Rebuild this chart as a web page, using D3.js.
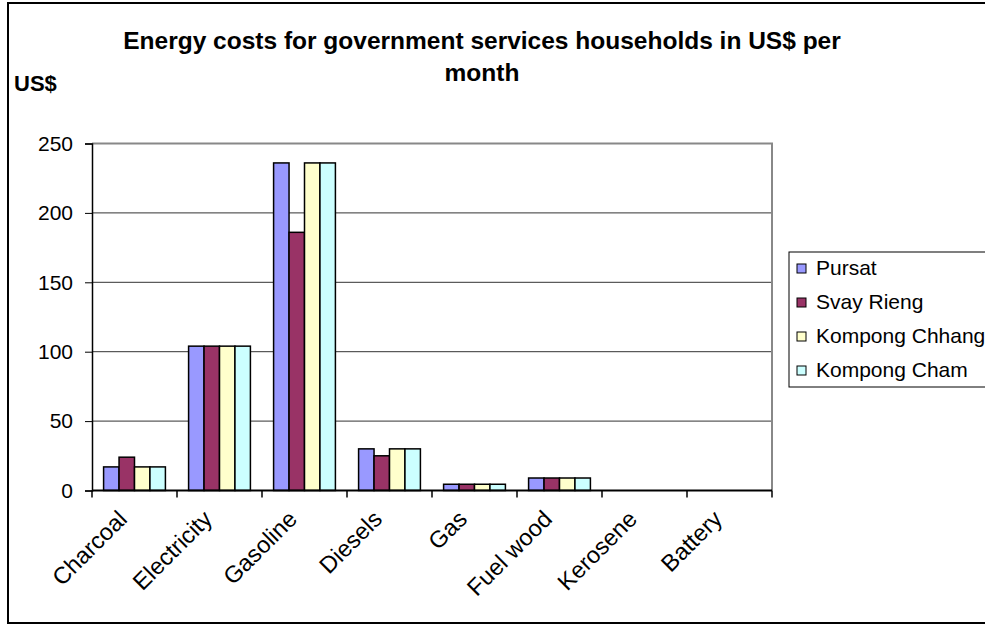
<!DOCTYPE html>
<html>
<head>
<meta charset="utf-8">
<script src="https://cdn.jsdelivr.net/npm/d3@7"></script>
<style>
  body { margin: 0; background: white; }
  text { font-family: "Liberation Sans", Arial, sans-serif; }
</style>
</head>
<body>
<svg width="985" height="625"></svg>
<script>
var categories = ["Charcoal", "Electricity", "Gasoline", "Diesels", "Gas", "Fuel wood", "Kerosene", "Battery"];
var seriesNames = ["Pursat", "Svay Rieng", "Kompong Chhang", "Kompong Cham"];
var pursat = [17, 104, 236, 30, 4.5, 9, 0, 0];
var svayRieng = [24, 104, 186, 25, 4.5, 9, 0, 0];
var kompongChhang = [17, 104, 236, 30, 4.5, 9, 0, 0];
var kompongCham = [17, 104, 236, 30, 4.5, 9, 0, 0];
var yTicks = [0, 50, 100, 150, 200, 250];
var colors = ["#9999FF", "#993366", "#FFFFCC", "#CCFFFF"];

var seriesValues = [pursat, svayRieng, kompongChhang, kompongCham];

var svg = d3.select("svg");

// Outer frame
svg.append("rect")
    .attr("x", 8).attr("y", 3)
    .attr("width", 985).attr("height", 620)
    .attr("fill", "white")
    .attr("stroke", "black")
    .attr("stroke-width", 2);

var plot = { left: 92, right: 772, top: 143.5, bottom: 490.5 };

var xScale = d3.scaleBand().domain(categories).range([plot.left, plot.right]).paddingInner(1.5 / 5.5).paddingOuter(0.75 / 5.5);
var groupScale = d3.scaleBand().domain(seriesNames).range([0, xScale.bandwidth()]);
var tickScale = d3.scaleBand().domain(categories).range([plot.left, plot.right]);
var yScale = d3.scaleLinear().domain([0, 250]).range([plot.bottom, plot.top]);

// Gridlines
svg.append("g")
    .selectAll("line")
    .data(yTicks.slice(1))
    .join("line")
    .attr("x1", plot.left).attr("x2", plot.right)
    .attr("y1", d => yScale(d)).attr("y2", d => yScale(d))
    .style("stroke", "#333")
    .style("stroke-width", 1);

// Plot area right/top border
svg.append("path")
    .attr("d", "M" + plot.left + "," + plot.top + "H" + plot.right + "V" + plot.bottom)
    .attr("fill", "none")
    .attr("stroke", "#888")
    .attr("stroke-width", 2);

// Bars
seriesValues.forEach(function (values, s) {
    svg.append("g")
        .selectAll("rect")
        .data(values)
        .join("rect")
        .attr("x", (d, i) => xScale(categories[i]) + groupScale(seriesNames[s]))
        .attr("y", d => yScale(d))
        .attr("width", groupScale.bandwidth())
        .attr("height", d => plot.bottom - yScale(d))
        .attr("fill", colors[s])
        .attr("stroke", d => d > 0 ? "black" : "none")
        .attr("stroke-width", 1.5);
});

// Y axis
var yAxis = svg.append("g")
    .attr("transform", "translate(" + plot.left + ",0)")
    .call(d3.axisLeft(yScale).tickValues(yTicks).tickSize(7).tickPadding(12));
yAxis.select(".domain").attr("stroke", "black").attr("stroke-width", 1.5);
yAxis.selectAll(".tick line").attr("stroke", "black");
yAxis.selectAll("text").style("font-size", "21px").attr("fill", "black")
    .style("font-family", "'Liberation Sans', Arial, sans-serif");

// X axis
var xAxis = svg.append("g").attr("transform", "translate(0," + plot.bottom + ")");
xAxis.append("line")
    .attr("x1", plot.left).attr("x2", plot.right)
    .attr("stroke", "black").attr("stroke-width", 2);
xAxis.selectAll(".xtick")
    .data(categories.concat(["end"]))
    .join("line")
    .attr("class", "xtick")
    .attr("x1", (d, i) => plot.left + i * tickScale.bandwidth())
    .attr("x2", (d, i) => plot.left + i * tickScale.bandwidth())
    .attr("y1", 0).attr("y2", 7)
    .attr("stroke", "black").attr("stroke-width", 1.5);
xAxis.selectAll(".xlabel")
    .data(categories)
    .join("text")
    .attr("class", "xlabel")
    .attr("transform", d => "translate(" + (tickScale(d) + tickScale.bandwidth() / 2 - 6) + ",30) rotate(-45)")
    .attr("text-anchor", "end")
    .style("font-size", "23.5px")
    .text(d => d);

// Title
svg.append("text")
    .attr("x", 482).attr("y", 49)
    .attr("text-anchor", "middle")
    .style("font-size", "24.5px").style("font-weight", "bold")
    .text("Energy costs for government services households in US$ per");
svg.append("text")
    .attr("x", 482).attr("y", 81)
    .attr("text-anchor", "middle")
    .style("font-size", "24.5px").style("font-weight", "bold")
    .text("month");

// Y axis title
svg.append("text")
    .attr("x", 14).attr("y", 91)
    .style("font-size", "22px").style("font-weight", "bold")
    .text("US$");

// Legend
svg.append("rect")
    .attr("x", 789).attr("y", 252)
    .attr("width", 210).attr("height", 135)
    .attr("fill", "white")
    .attr("stroke", "black")
    .attr("stroke-width", 1);

var legend = svg.append("g")
    .selectAll("g")
    .data(seriesNames)
    .join("g")
    .attr("transform", (d, i) => "translate(797," + (268 + i * 34) + ")");
legend.append("rect")
    .attr("x", 0).attr("y", -4)
    .attr("width", 9).attr("height", 9)
    .attr("fill", (d, i) => colors[i])
    .attr("stroke", "black");
legend.append("text")
    .attr("x", 19).attr("dy", "0.35em")
    .style("font-size", "21px")
    .text(d => d);
</script>
</body>
</html>
